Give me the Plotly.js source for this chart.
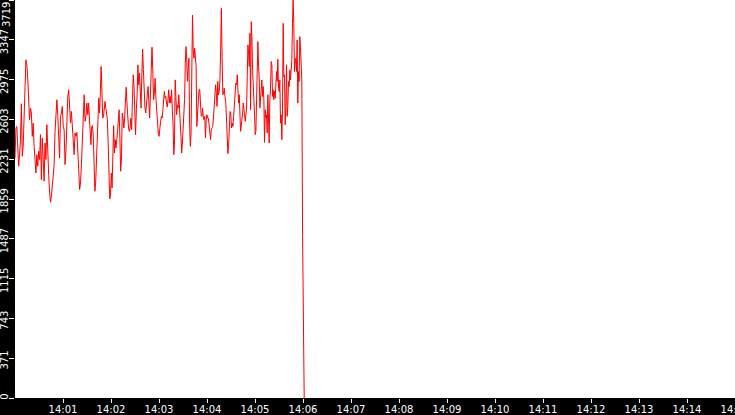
<!DOCTYPE html>
<html>
<head>
<meta charset="utf-8">
<script src="https://cdn.plot.ly/plotly-3.0.1.min.js"></script>
<style>
  html, body { margin: 0; padding: 0; background: #000; }
  #chart { width: 735px; height: 415px; }
</style>
</head>
<body>
<div id="chart"></div>
<script>
// readings, grouped by stretch of the time axis (seconds after 14:00:00)
var segA = { from: 0, to: 91 };
var segAVals = [2243,2523,2538,2383,2166,2274,2414,2750,2259,2352,2554,2896,3160,3113,2989,2740,2600,2709,2663,2445,
  2569,2352,2228,2103,2274,2166,2305,2228,2461,2041,2430,2197,2026,2383,2228,2554,2197,2088,1923,1830,
  1886,1995,2026,2181,2492,2694,2787,2647,2414,2243,2632,2663,2725,2538,2507,2181,2305,2600,2818,2880,
  2725,2569,2678,2538,2352,2274,2476,2445,2482,2352,2135,1948,2010,2181,2383,2750,2834,2585,2632,2756,2647];

var segB = { from: 92, to: 183 };
var segBVals = [2756,2647,2461,2367,2538,2545,2445,2150,1932,2010,2290,2492,2600,2802,2663,2849,3098,2880,2616,2632,
  2694,2771,2709,2647,2600,2383,2026,1861,1901,2103,1963,2523,2545,2290,2414,2336,2476,2492,2600,2694,
  2414,2119,2243,2663,2616,2523,2616,2725,2905,2756,2569,2523,2492,2523,2616,2507,2787,3020,2911,2632,
  2461,2694,2834,3113,2927,3035,2740,2709,3020,3259,3067,2834,2709,2663,2787,2834,2911,2725,2616,2849,
  3113,3278,3067,2787,2849,2989,2802,2694,2554,2476,2445,2538,2585,2632];

var segC = { from: 184, to: 276 };
var segCVals = [2616,2694,2787,2865,2802,2818,2756,2719,2787,2880,2756,2818,2756,2880,2694,2569,2274,2367,2973,2756,
  2647,2740,2709,2834,2600,2569,2445,2290,2383,2507,2554,2787,3129,3284,3160,2958,3082,3175,2554,2352,
  2476,3004,3579,3253,3175,3269,3206,3098,2538,2694,2787,2880,2886,2756,2638,2632,2709,2616,2600,2632,
  2430,2600,2647,2616,2616,2554,2461,2414,2507,2523,2538,2616,2709,2818,2927,2849,2725,2958,2834,2865,
  2973,3253,3641,3191,2834,2849,2896,2818,2771,2632,2507,2284,2352,2507,2678,2663,2523,2569,2538,2632,
  2725,2849,2942];

var segD = { from: 277, to: 358.5 };
var segDVals = [2927,3020,2880,2756,2834,2694,2492,2538,2585,2663,2756,2678,2600,2585,2647,2709,3004,3300,3222,3098,
  3408,2694,3517,3377,3067,2834,2787,2647,2461,2492,2709,3129,3331,3098,2989,2709,2802,2942,2973,2818,
  2911,2787,2389,2694,2616,2647,2476,2834,2616,2383,2787,2896,3144,3113,2818,2880,2787,2865,2802,2942,
  3051,2958,3166,2896,2865,2973,2569,2647,2414,2694,3501,3004,3020,2554,2725,3113,2632,2725,2958,2911,
  3067,2973,3051,3160,3501,3719,3486,3051,3160,3175,3051,3346,2756,3051,2958,3377,3284,2973,2973];

// the drop at the end
var tailSecs = [359.5, 360.5, 361.5];
var tailVals = [1510, 130, 0];

var yMax = 3719.4;
var yTickText = ['0','371','743','1115','1487','1859','2231','2603','2975','3347','3719'];
var xTickText = ['14:01','14:02','14:03','14:04','14:05','14:06','14:07','14:08',
  '14:09','14:10','14:11','14:12','14:13','14:14','14:15'];

var base = Date.UTC(2024, 0, 1, 14, 0, 0);
var xs = [], ys = [];
function addSeg(seg, vals) {
  var step = (seg.to - seg.from) / (vals.length - 1);
  for (var k = 0; k < vals.length; k++) {
    xs.push(base + (seg.from + k * step) * 1000);
    ys.push(vals[k]);
  }
}
addSeg(segA, segAVals);
addSeg(segB, segBVals);
addSeg(segC, segCVals);
addSeg(segD, segDVals);
for (var k = 0; k < tailVals.length; k++) {
  xs.push(base + tailSecs[k] * 1000);
  ys.push(tailVals[k]);
}

// minute ticks, from the labels
var xTickVals = xTickText.map(function (t) {
  var p = t.split(':');
  return Date.UTC(2024, 0, 1, +p[0], +p[1], 0);
});

var fnt = { family: 'DejaVu Sans', size: 10, color: '#ffffff' };

var trace = {
  x: xs,
  y: ys,
  mode: 'lines',
  type: 'scatter',
  line: { color: '#ff0000', width: 1 },
  hoverinfo: 'skip'
};

// labels sit a little below their tick; the top one is kept inside the page
var yTickVals = yTickText.map(Number);
var yTickShown = yTickText.map(function (t, i) {
  return i === 0 ? t : t + '\u00a0\u00a0';
});
yTickShown[yTickShown.length - 1] = '';

var lay = {
  width: 735,
  height: 415,
  paper_bgcolor: '#000000',
  plot_bgcolor: '#ffffff',
  margin: { l: 15, r: 0, t: 0, b: 17 },
  showlegend: false,
  font: fnt,
  xaxis: {
    type: 'date',
    range: [base, base + 15 * 60 * 1000],
    tickmode: 'array',
    tickvals: xTickVals,
    ticktext: xTickText,
    ticks: 'outside',
    ticklen: 4,
    tickcolor: '#ffffff',
    tickfont: fnt,
    ticklabelstandoff: -2,
    ticklabeloverflow: 'allow',
    showgrid: false,
    zeroline: false,
    showline: false,
    fixedrange: true
  },
  yaxis: {
    range: [0, yMax],
    tickmode: 'array',
    tickvals: yTickVals,
    ticktext: yTickShown,
    tickangle: -90,
    ticks: 'outside',
    ticklen: 5,
    tickcolor: '#ffffff',
    tickfont: fnt,
    ticklabelstandoff: -3,
    showgrid: false,
    zeroline: false,
    showline: false,
    fixedrange: true
  },
  annotations: [{
    xref: 'paper', yref: 'paper',
    x: 0, y: 1,
    xanchor: 'right', yanchor: 'top',
    xshift: -2, yshift: -1,
    borderpad: 0,
    text: yTickText[yTickText.length - 1],
    textangle: -90,
    showarrow: false,
    font: fnt
  }]
};

Plotly.newPlot('chart', [trace], lay, { staticPlot: true, displayModeBar: false });
</script>
</body>
</html>
